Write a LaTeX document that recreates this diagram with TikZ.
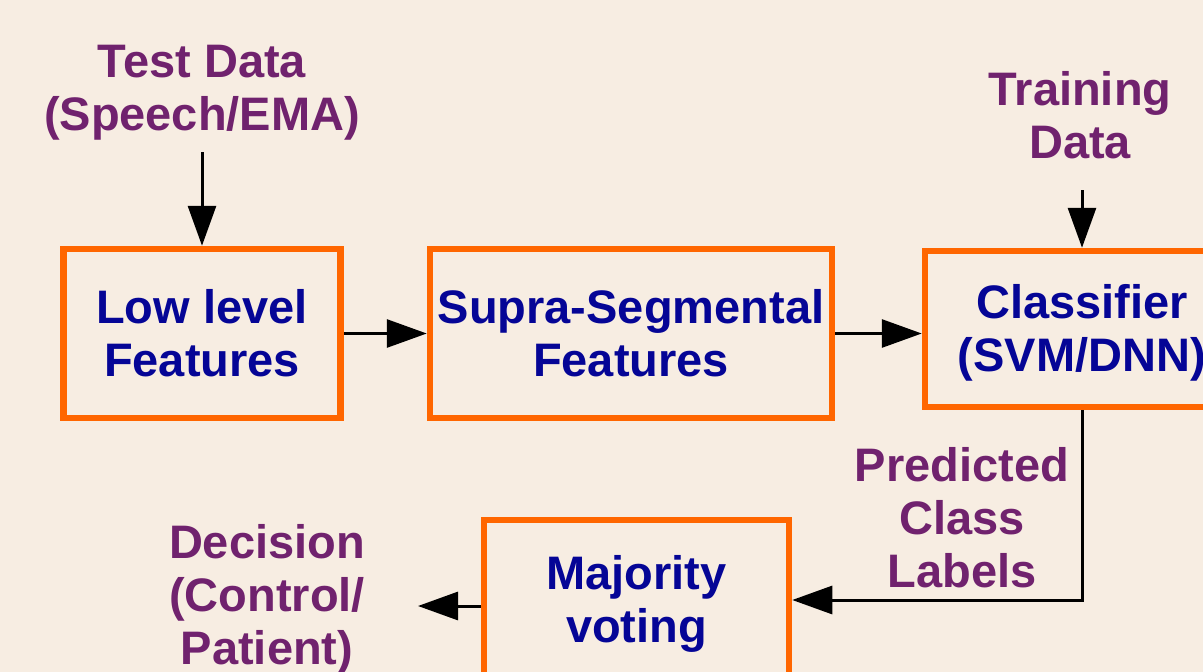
\documentclass[tikz,border=0pt]{standalone}
\usepackage{fontspec}
\setmainfont{Liberation Sans}
\usetikzlibrary{arrows.meta}
\definecolor{bgc}{RGB}{247,237,226}
\definecolor{boxorange}{RGB}{255,102,0}
\definecolor{navy}{RGB}{5,5,150}
\definecolor{plum}{RGB}{112,34,110}
\newcommand{\lowerby}[1]{\raisebox{-4pt}[\height][\depth]{#1}}
\tikzset{
  box/.style={draw=boxorange, line width=6.5pt, inner sep=0pt, align=center,
    text=navy, font=\fontsize{47}{53}\selectfont\bfseries},
  lbl/.style={align=center, text=plum, inner sep=0pt,
    font=\fontsize{47}{53}\selectfont\bfseries},
  arr/.style={line width=3pt, -{Triangle[length=40pt,width=28pt]}}
}
\begin{document}
\begin{tikzpicture}[x=1pt,y=-1pt]
\useasboundingbox (0,0) rectangle (1203,672);
\clip (0,0) rectangle (1203,672);
\fill[bgc] (0,0) rectangle (1203,672);

\node[box, minimum width=277pt, minimum height=169pt] (low) at (202,333.5) {Low level\\Features};
\node[box, minimum width=402pt, minimum height=169pt] (supra) at (631,333.5) {Supra-Segmental\\Features};
\node[box, minimum width=314pt, minimum height=156pt] (cls) at (1082,329) {\lowerby{Classifier}\\\lowerby{(SVM/DNN)}};
\node[box, minimum width=305pt, minimum height=160pt] (maj) at (636.5,600) {\lowerby{Majority}\\\lowerby{voting}};

\node[lbl] (test) at (202,93) {Test Data\\(Speech/EMA)};
\node[lbl] (train) at (1080,115) {Training\\Data};
\node[lbl] (pred) at (962,518) {Predicted\\Class\\Labels};
\node[lbl] (dec) at (267,599) {Decision\\(Control/\\Patient)};

\coordinate (testend) at (202,152);
\coordinate (trainend) at (1082,190);
\coordinate (decend) at (418,606);

\draw[arr] (testend) -- (low.north);
\draw[arr] (trainend) -- (cls.north);
\draw[arr] (low.east) -- (supra.west);
\draw[arr] (supra.east) -- (cls.west |- supra.east);
\draw[arr] (cls.south) |- (maj.east);
\draw[arr] (maj.west |- decend) -- (decend);
\end{tikzpicture}
\end{document}
